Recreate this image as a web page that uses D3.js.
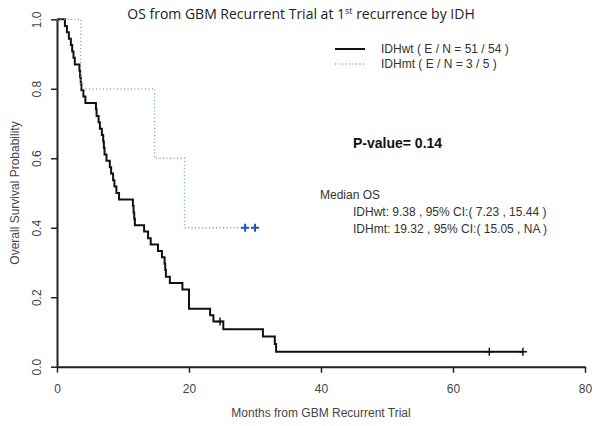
<!DOCTYPE html>
<html><head><meta charset="utf-8">
<script src="https://cdn.jsdelivr.net/npm/d3@7"></script>
<style>
body{margin:0;background:#fff;}
svg{display:block;}
text{font-family:"Liberation Sans",Arial,sans-serif;}
</style></head>
<body>
<svg id="chart" width="602" height="426"></svg>
<script>
// ---- data ----
const xTicks = [0, 20, 40, 60, 80];
const yTicks = [0.0, 0.2, 0.4, 0.6, 0.8, 1.0];

// IDHwt (E/N = 51/54): event times (months) and survival after each drop
const wtTimes = [0, 1.2, 1.5, 1.8, 2.1, 2.3, 2.5, 2.7, 3.4, 3.5, 3.6, 3.7, 4.0, 4.3, 5.9, 6.0, 6.3, 6.5, 6.8, 7.0, 7.1, 7.2, 7.5, 8.0, 8.2, 8.5, 8.7, 9.0, 9.4, 11.5, 11.6, 11.7, 11.8, 13.2, 13.8, 14.2, 15.3, 15.9, 16.3, 16.4, 16.5, 17.1, 19.0, 20.0, 23.2, 23.7, 25.2, 31.2, 33.0, 33.2, 70.6];
const wtSurv  = [1, 0.981, 0.963, 0.944, 0.926, 0.907, 0.889, 0.870, 0.852, 0.833, 0.815, 0.796, 0.778, 0.759, 0.741, 0.722, 0.704, 0.685, 0.667, 0.648, 0.630, 0.611, 0.593, 0.574, 0.556, 0.537, 0.519, 0.500, 0.481, 0.463, 0.444, 0.426, 0.407, 0.389, 0.370, 0.352, 0.333, 0.315, 0.296, 0.278, 0.259, 0.241, 0.222, 0.167, 0.148, 0.130, 0.108, 0.087, 0.065, 0.043, 0.043];
const wtCensor = [24.7, 65.5, 70.6];

// IDHmt (E/N = 3/5)
const mtTimes = [0, 3.6, 14.8, 19.32, 30.0];
const mtSurv  = [1, 0.8, 0.6, 0.4, 0.4];
const mtCensor = [28.5, 30.0];

const legendLabels = ["IDHwt  ( E / N = 51 / 54 )", "IDHmt  ( E / N = 3 / 5 )"];
const medianLines = ["Median OS", "IDHwt: 9.38 , 95% CI:( 7.23 , 15.44 )", "IDHmt: 19.32 , 95% CI:( 15.05 , NA )"];
const pValueText = "P-value= 0.14";

// ---- drawing ----
const svg = d3.select("#chart");
const x = d3.scaleLinear().domain([0, 80]).range([57, 585]);
const y = d3.scaleLinear().domain([0, 1]).range([366.7, 19.3]);

const wtColor = "#111", mtColor = "#6f9bd0", mtCensorColor = "#2457b0";
const mtDash = "1,2.5";

// axes
const xAxis = d3.axisBottom(x).tickValues(xTicks).tickSize(6).tickSizeOuter(0).tickPadding(6).tickFormat(d3.format("d"));
const gx = svg.append("g").attr("transform", `translate(0,${y(0)})`).call(xAxis);
const yAxis = d3.axisLeft(y).tickValues(yTicks).tickSize(6).tickSizeOuter(0).tickFormat(d3.format(".1f"));
const gy = svg.append("g").attr("transform", `translate(${x(0)},0)`).call(yAxis);
[gx, gy].forEach(g => {
  g.select(".domain").attr("stroke", "#222").attr("stroke-width", 2);
  g.selectAll(".tick line").attr("stroke", "#222").attr("stroke-width", 1.5);
  g.selectAll(".tick text").attr("fill", "#444").style("font-size", "12px").style("font-family", "'Liberation Sans',Arial,sans-serif");
});
gy.selectAll(".tick text")
  .attr("x", null).attr("dy", null)
  .attr("text-anchor", "middle")
  .attr("transform", d => `translate(-16,0) rotate(-90)`)
  .attr("y", 0);
gx.selectAll(".tick text").attr("dy", "1.2em");

// axis titles
svg.append("text").attr("x", 321).attr("y", 417).attr("text-anchor", "middle")
  .attr("fill", "#444").style("font-size", "12px").text("Months from GBM Recurrent Trial");
svg.append("text").attr("transform", "translate(19,193) rotate(-90)").attr("text-anchor", "middle")
  .attr("fill", "#444").style("font-size", "12px").text("Overall Survival Probability");

// title
const title = svg.append("text").attr("x", 301).attr("y", 19).attr("text-anchor", "middle")
  .attr("fill", "#222").style("font-family", "'Open Sans',sans-serif").style("font-size", "14px");
title.append("tspan").text("OS from GBM Recurrent Trial at 1");
title.append("tspan").attr("dy", -5).style("font-size", "9px").text("st");
title.append("tspan").attr("dy", 5).text(" recurrence by IDH");

// curves
const line = d3.line().x(d => x(d[0])).y(d => y(d[1])).curve(d3.curveStepAfter);
const survAt = (times, surv, t) => { let s = surv[0]; for (let i = 0; i < times.length; i++) if (times[i] <= t) s = surv[i]; return s; };

svg.append("path").datum(wtTimes.map((t, i) => [t, wtSurv[i]]))
  .attr("d", line).attr("fill", "none").attr("stroke", wtColor).attr("stroke-width", 2);
svg.append("path").datum(mtTimes.map((t, i) => [t, mtSurv[i]]))
  .attr("d", line).attr("fill", "none").attr("stroke", mtColor).attr("stroke-width", 1.3)
  .attr("stroke-dasharray", mtDash);

// censor marks
function plus(g, times, surv, cens, color, w) {
  cens.forEach(t => {
    const cx = x(t), cy = y(survAt(times, surv, t));
    g.append("line").attr("x1", cx - 4).attr("x2", cx + 4).attr("y1", cy).attr("y2", cy).attr("stroke", color).attr("stroke-width", w);
    g.append("line").attr("x1", cx).attr("x2", cx).attr("y1", cy - 4).attr("y2", cy + 4).attr("stroke", color).attr("stroke-width", w);
  });
}
const gc = svg.append("g");
plus(gc, wtTimes, wtSurv, wtCensor, wtColor, 1.5);
plus(gc, mtTimes, mtSurv, mtCensor, mtCensorColor, 2);

// legend
const leg = svg.append("g");
leg.append("line").attr("x1", 335).attr("x2", 365).attr("y1", 49).attr("y2", 49).attr("stroke", wtColor).attr("stroke-width", 2);
leg.append("line").attr("x1", 335).attr("x2", 365).attr("y1", 64).attr("y2", 64).attr("stroke", mtColor).attr("stroke-width", 1.3).attr("stroke-dasharray", mtDash);
legendLabels.forEach((s, i) => leg.append("text").attr("x", 381).attr("y", 53 + i * 15)
  .attr("fill", "#333").style("font-size", "12px").text(s));

// p-value
svg.append("text").attr("x", 353).attr("y", 148).attr("fill", "#111")
  .style("font-size", "14px").style("font-weight", "bold").text(pValueText);

// median OS
medianLines.forEach((s, i) => svg.append("text").attr("x", i === 0 ? 320 : 353).attr("y", 199 + i * 17)
  .attr("fill", "#333").style("font-size", "12px").text(s));
</script>
</body></html>
